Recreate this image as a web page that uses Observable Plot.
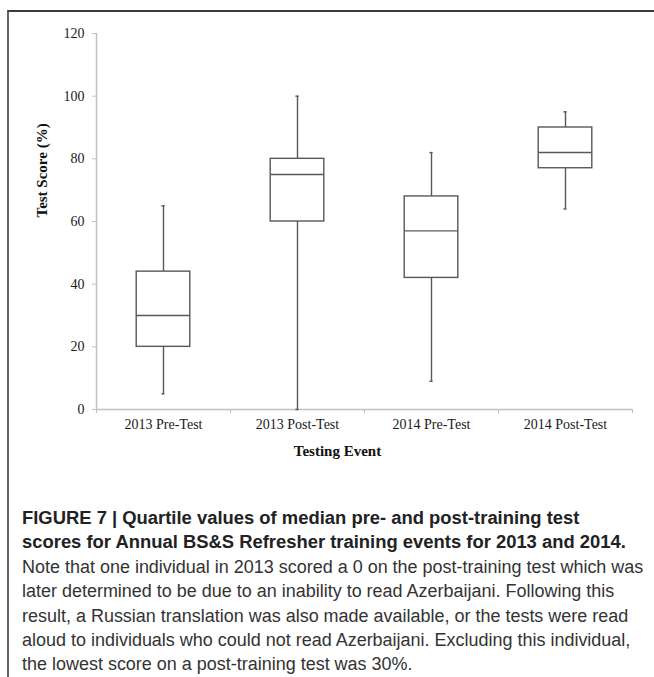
<!DOCTYPE html>
<html>
<head>
<meta charset="utf-8">
<script src="https://cdn.jsdelivr.net/npm/d3@7"></script>
<script src="https://cdn.jsdelivr.net/npm/@observablehq/plot@0.6"></script>
<style>
  html, body { margin: 0; padding: 0; background: #fff; }
  #page { position: relative; width: 654px; height: 677px; overflow: hidden; background: #fff; }
  #frame { position: absolute; left: 7px; top: 10px; width: 700px; height: 700px;
           border-top: 2px solid #3a3a3a; border-left: 2px solid #666; box-sizing: border-box; }
  #chart { position: absolute; left: 0; top: 0; }
  #caption { position: absolute; left: 22px; top: 506px; width: 632px;
             font-family: "Liberation Sans", Arial, Helvetica, sans-serif; font-size: 17.5px;
             line-height: 24.4px; color: #333; }
  #caption div { white-space: nowrap; }
  #caption span { display: inline-block; }
  #caption .t { font-weight: bold; color: #222; }
</style>
</head>
<body>
<div id="page">
  <div id="frame"></div>
  <div id="chart"></div>
  <div id="caption"></div>
</div>
<script>
// Data
const categories = ["2013 Pre-Test", "2013 Post-Test", "2014 Pre-Test", "2014 Post-Test"];
const minVals    = [5, 0, 9, 64];
const q1Vals     = [20, 60, 42, 77];
const medianVals = [30, 75, 57, 82];
const q3Vals     = [44, 80, 68, 90];
const maxVals    = [65, 100, 82, 95];
const yTicks     = [0, 20, 40, 60, 80, 100, 120];
const yTitle = "Test Score (%)";
const xTitle = "Testing Event";
const captionTitle = [
  "FIGURE 7 | Quartile values of median pre- and post-training test",
  "scores for Annual BS&S Refresher training events for 2013 and 2014."
];
const captionBody = [
  "Note that one individual in 2013 scored a 0 on the post-training test which was",
  "later determined to be due to an inability to read Azerbaijani. Following this",
  "result, a Russian translation was also made available, or the tests were read",
  "aloud to individuals who could not read Azerbaijani. Excluding this individual,",
  "the lowest score on a post-training test was 30%."
];

const rows = categories.map((c, i) => ({
  cat: c, pos: i + 0.5,
  min: minVals[i], q1: q1Vals[i], med: medianVals[i], q3: q3Vals[i], max: maxVals[i]
}));

const boxHalf = 0.2;    // half box width in band units
const capHalf = 0.012;  // half whisker-cap width
const boxStroke = "#585858";
const axisStroke = "#c0c0c0";

const chart = Plot.plot({
  width: 654,
  height: 470,
  marginLeft: 96,
  marginRight: 22,
  marginTop: 33,
  marginBottom: 61,
  style: { fontFamily: "'Liberation Serif', 'Times New Roman', serif", fontSize: "14px", color: "#1a1a1a", background: "transparent" },
  x: { type: "linear", domain: [0, categories.length] },
  y: { domain: [0, 120] },
  marks: [
    Plot.ruleX([0], { stroke: axisStroke, strokeWidth: 1.5 }),
    Plot.ruleY([0], { stroke: axisStroke, strokeWidth: 1.5 }),
    Plot.axisY({ ticks: yTicks, tickSize: 4, tickPadding: 8, stroke: axisStroke, fill: "#1a1a1a", label: null }),
    Plot.axisX({ ticks: d3.range(categories.length + 1), tickSize: 4, tickFormat: () => "", stroke: axisStroke, label: null }),
    Plot.axisX({ ticks: rows.map(d => d.pos), tickSize: 0, tickPadding: 10, tickFormat: d => categories[Math.floor(d)], fill: "#1a1a1a", label: null }),
    Plot.ruleX(rows, { x: "pos", y1: "q3", y2: "max", stroke: boxStroke, strokeWidth: 1.4 }),
    Plot.ruleX(rows, { x: "pos", y1: "min", y2: "q1", stroke: boxStroke, strokeWidth: 1.4 }),
    Plot.ruleY(rows, { y: "max", x1: d => d.pos - capHalf, x2: d => d.pos + capHalf, stroke: boxStroke, strokeWidth: 1.4 }),
    Plot.ruleY(rows, { y: "min", x1: d => d.pos - capHalf, x2: d => d.pos + capHalf, stroke: boxStroke, strokeWidth: 1.4 }),
    Plot.rect(rows, { x1: d => d.pos - boxHalf, x2: d => d.pos + boxHalf, y1: "q1", y2: "q3", fill: "white", stroke: boxStroke, strokeWidth: 1.4 }),
    Plot.ruleY(rows, { y: "med", x1: d => d.pos - boxHalf, x2: d => d.pos + boxHalf, stroke: boxStroke, strokeWidth: 1.4 }),
    Plot.text([yTitle], { frameAnchor: "left", dx: -54, dy: -4, rotate: -90, text: d => d, fontWeight: "bold", fontSize: 15, fill: "#111" }),
    Plot.text([xTitle], { frameAnchor: "bottom", dx: -27, dy: 46, text: d => d, fontWeight: "bold", fontSize: 15, fill: "#111" })
  ]
});
document.getElementById("chart").appendChild(chart);

const cap = document.getElementById("caption");
function addLine(t, cls) {
  const d = document.createElement("div");
  if (cls) d.className = cls;
  const s = document.createElement("span");
  s.textContent = t;
  d.appendChild(s);
  cap.appendChild(d);
  return s;
}
const titleSpans = captionTitle.map(t => addLine(t, "t"));
const bodySpans = captionBody.map(t => addLine(t, ""));
// fit font sizes so the widest lines match the reference widths
function fit(spans, idx, target) {
  const base = parseFloat(getComputedStyle(spans[idx]).fontSize);
  const w = spans[idx].getBoundingClientRect().width;
  const fs = base * target / w;
  spans.forEach(s => s.parentNode.style.fontSize = fs + "px");
}
fit(titleSpans, 1, 604);
fit(bodySpans, 0, 622);
</script>
</body>
</html>
